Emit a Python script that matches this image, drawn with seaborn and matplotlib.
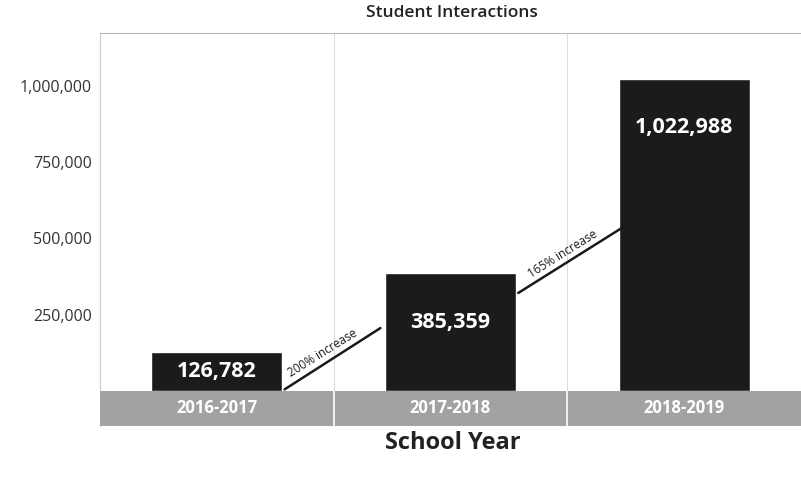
import numpy as np
import pandas as pd
import matplotlib
matplotlib.use("Agg")
import matplotlib.pyplot as plt
import seaborn as sns

# data
years = ["2016-2017", "2017-2018", "2018-2019"]
interactions = [126782, 385359, 1022988]
y_ticks = [250000, 500000, 750000, 1000000]
increase_labels = ["200% increase", "165% increase"]

df = pd.DataFrame({"year": years, "interactions": interactions})

sns.set_theme(style="white")
plt.rcParams["font.family"] = ["Open Sans", "DejaVu Sans"]

fig = plt.figure(figsize=(8.01, 4.78), dpi=100)
ax = fig.add_axes([100 / 801, 52 / 478, 701 / 801, 393 / 478])

band_bottom = -115000
ax.set_xlim(-0.5, 2.5)
ax.set_ylim(band_bottom, 1173000)

# category separators
for b in [0.5, 1.5]:
    ax.axvline(b, color="#dddddd", lw=0.8, zorder=0)

sns.barplot(data=df, x="year", y="interactions", color="#1b1b1b",
            width=0.56, saturation=1, ax=ax, zorder=2)

# grey band holding the category labels
ax.axhspan(band_bottom, 0, color="#a2a2a2", zorder=3, lw=0)
for b in [0.5, 1.5]:
    ax.vlines(b, band_bottom, 0, color="white", lw=1.2, zorder=4)
for i, yr in enumerate(years):
    ax.text(i, band_bottom / 2, yr, ha="center", va="center", color="white",
            fontsize=12, fontweight="bold", zorder=5)

# value labels inside bars
for i, v in enumerate(interactions):
    ly = max(v / 2, v - 160000)
    ax.text(i, ly, f"{v:,}", ha="center", va="center", color="white",
            fontsize=15.5, fontweight="bold", zorder=5)

# increase annotations between bars
segs = [((0.29, 5000), (0.70, 206000)), ((1.29, 321000), (1.76, 547000))]
for (p0, p1), lab in zip(segs, increase_labels):
    ax.plot([p0[0], p1[0]], [p0[1], p1[1]], color="#1a1a1a", lw=1.8, zorder=5)
    mx = p0[0] + (p1[0] - p0[0]) * 0.45
    my = p0[1] + (p1[1] - p0[1]) * 0.45
    ax.annotate(lab, (mx, my), xytext=(-1, 2), textcoords="offset points",
                rotation=32, rotation_mode="anchor", ha="center", va="bottom",
                fontsize=8.5, color="#1a1a1a", zorder=5)

ax.set_yticks(y_ticks)
ax.set_yticklabels([f"{t:,}" for t in y_ticks], fontsize=11.5, color="#333333")
ax.set_xticks([])
ax.set_xlabel("")
ax.set_ylabel("")
ax.tick_params(axis="y", length=0, pad=6)

for s in ["right", "bottom"]:
    ax.spines[s].set_visible(False)
ax.spines["left"].set_color("#cccccc")
ax.spines["left"].set_linewidth(0.8)
ax.spines["top"].set_color("#bbbbbb")
ax.spines["top"].set_linestyle((0, (1, 1)))
ax.spines["top"].set_linewidth(0.8)

fig.text(452 / 801, 1 - 13 / 478, "Student Interactions", ha="center", va="center",
         fontsize=12.5, fontweight="semibold", color="#222222")
fig.text(453 / 801, 1 - 443 / 478, "School Year", ha="center", va="center",
         fontsize=17, fontweight="bold", color="#222222")

fig.savefig("out.png", dpi=100)
